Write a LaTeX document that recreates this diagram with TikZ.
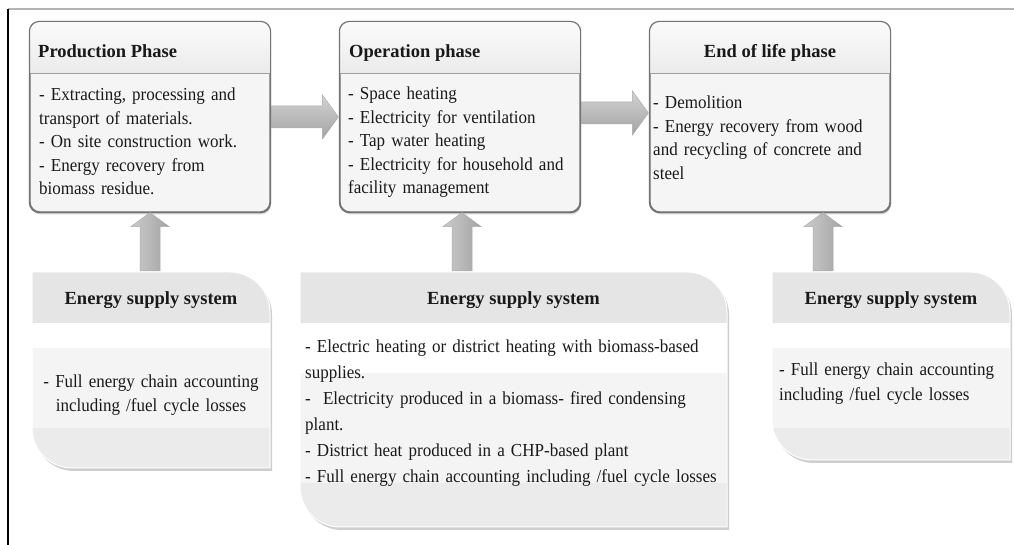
\documentclass[tikz,border=0pt]{standalone}
\usepackage{fontspec}
\setmainfont{Liberation Serif}
\newfontfamily\bodyfont[FakeStretch=0.93]{Liberation Serif}
\usetikzlibrary{calc,shadows}

% outline of a supply box: square top-left and bottom-right, round top-right and bottom-left
\newcommand{\supplypath}[4]{%
  (#1,#4) -- (#3-40,#4) .. controls (#3-18,#4) and (#3,#4-18) .. (#3,#4-40)
  -- (#3,#2) -- (#1+40,#2) .. controls (#1+18,#2) and (#1,#2+18) .. (#1,#2+40) -- cycle}

% supply box: name, x1, ybottom, x2, ytop, end of white band, end of light band
\newcommand{\supplybox}[7]{%
  \node[inner sep=0pt, minimum width={#4-#2}, minimum height={#5-#3}] (#1) at ({(#2+#4)/2},{(#3+#5)/2}) {};
  \fill[black!35, opacity=0.55, xshift=2pt, yshift=-3pt] \supplypath{#2}{#3}{#4}{#5};
  \begin{scope}
    \clip \supplypath{#2}{#3}{#4}{#5};
    \fill[supplyhead] (#2,#5) rectangle (#4,222);
    \fill[white] (#2,222) rectangle (#4,#6);
    \fill[supplylight] (#2,#6) rectangle (#4,#7);
    \fill[supplylow] (#2,#7) rectangle (#4,#3);
  \end{scope}
  \draw[white, line width=1pt] \supplypath{#2}{#3}{#4}{#5};
}

% block arrow pointing up from a supply box to a phase box
\newcommand{\liftarrow}[3]{%
  \path[varrow] let \p1=($(#1.south)+(#3,0)$), \p2=(#2.north) in
    (\x1-10pt,\y2+1pt) -- (\x1-10pt,\y1-14pt) -- (\x1-19pt,\y1-14pt) -- (\x1,\y1)
    -- (\x1+19pt,\y1-14pt) -- (\x1+10pt,\y1-14pt) -- (\x1+10pt,\y2+1pt) -- cycle;
}

% block arrow pointing right from one phase box to the next
\newcommand{\passarrow}[3]{%
  \path[harrow] let \p1=($(#1.east)+(0,#3)$), \p2=(#2.west) in
    (\x1+1pt,\y1+11pt) -- (\x2-17pt,\y1+11pt) -- (\x2-17pt,\y1+22pt) -- (\x2-1pt,\y1)
    -- (\x2-17pt,\y1-22pt) -- (\x2-17pt,\y1-11pt) -- (\x1+1pt,\y1-11pt) -- cycle;
}

\tikzset{
  phase/.style={draw=black!55, line width=1.2pt, rounded corners=10pt, fill=gray!8,
    minimum width=240pt, minimum height=190pt, inner sep=0pt,
    drop shadow={opacity=0.35, shadow xshift=1pt, shadow yshift=-2.5pt}},
  phaseborder/.style={draw=black!55, line width=1.2pt, rounded corners=10pt},
  header/.style={top color=gray!3, bottom color=gray!16},
  headline/.style={draw=gray!75, line width=1.6pt},
  titletext/.style={font=\fontsize{18.5}{22}\selectfont\bfseries, inner sep=0pt, text=black!90},
  bodytext/.style={font=\bodyfont\fontsize{18.3}{23.5}\selectfont, inner sep=0pt, align=left, text=black!90},
  harrow/.style={top color=gray!35, bottom color=gray!72, draw=gray!65, line width=0.5pt},
  varrow/.style={left color=gray!40, right color=gray!72, draw=gray!65, line width=0.5pt},
  frametop/.style={draw=gray!60, line width=2.2pt},
  frameleft/.style={draw=black, line width=1.4pt},
  supplyhead/.style={fill=gray!20},
  supplylight/.style={fill=gray!9},
  supplylow/.style={fill=gray!16},
}

\begin{document}
\begin{tikzpicture}[x=1pt, y=1pt]
\useasboundingbox (0,0) rectangle (1014,545);
\fill[white] (0,0) rectangle (1014,545);

% frame
\draw[frametop] (8,536) -- (1014,536);
\draw[frameleft] (8,536) -- (8,0);

% energy supply boxes
\supplybox{supA}{32}{77}{270}{273}{197}{117}
\supplybox{supB}{300}{18}{727}{273}{172}{62}
\supplybox{supC}{772}{85}{1010}{273}{197}{117}

\node[titletext, anchor=base] (supAT) at (151,240) {Energy supply system};
\node[titletext, anchor=base] (supBT) at (513.5,240) {Energy supply system};
\node[titletext, anchor=base] (supCT) at (891,240) {Energy supply system};

\node[bodytext, align=center, text width=236pt, anchor=base] (supAB) at (151,157)
  {- Full energy chain accounting\\ including /fuel cycle losses};
\node[bodytext, font=\bodyfont\fontsize{18.3}{26}\selectfont, text width=470pt, anchor=base west] (supBB) at (305,192)
  {- Electric heating or district heating with biomass-based\\ supplies.\\
   - \ Electricity produced in a biomass- fired condensing\\ plant.\\
   - District heat produced in a CHP-based plant\\
   - Full energy chain accounting including /fuel cycle losses};
\node[bodytext, font=\bodyfont\fontsize{18.3}{25}\selectfont, text width=240pt, anchor=base west] (supCB) at (779,169)
  {- Full energy chain accounting\\ including /fuel cycle losses};

% phase boxes
\node[phase] (prod) at (150,428) {};
\node[phase] (oper) at (460,428) {};
\node[phase] (eol) at (770,428) {};

\foreach \b in {prod,oper,eol} {
  \begin{scope}
    \clip[rounded corners=10pt] (\b.south west) rectangle (\b.north east);
    \shade[header] (\b.north west) rectangle ($(\b.north east)+(0,-52)$);
  \end{scope}
  \draw[headline] ($(\b.north west)+(0,-52)$) -- ($(\b.north east)+(0,-52)$);
  \draw[phaseborder] (\b.south west) rectangle (\b.north east);
}

\node[titletext, anchor=base west] (prodT) at (38,487) {Production Phase};
\node[titletext, anchor=base west] (operT) at (349,487) {Operation phase};
\node[titletext, anchor=base] (eolT) at (770,487) {End of life phase};

\node[bodytext, text width=240pt, anchor=base west] (prodB) at (39,444)
  {- Extracting, processing and\\ transport of materials.\\ - On site construction work.\\
   - Energy recovery from\\ biomass residue.};
\node[bodytext, text width=240pt, anchor=base west] (operB) at (348,445)
  {- Space heating\\ - Electricity for ventilation\\ - Tap water heating\\
   - Electricity for household and\\ facility management};
\node[bodytext, text width=240pt, anchor=base west] (eolB) at (653,436)
  {- Demolition\\ - Energy recovery from wood\\ and recycling of concrete and\\ steel};

% arrows between phases
\passarrow{prod}{oper}{0pt}
\passarrow{oper}{eol}{4pt}

% arrows from supply systems up to phases
\liftarrow{prod}{supA}{0pt}
\liftarrow{oper}{supB}{2pt}
\liftarrow{eol}{supC}{53pt}
\end{tikzpicture}
\end{document}
